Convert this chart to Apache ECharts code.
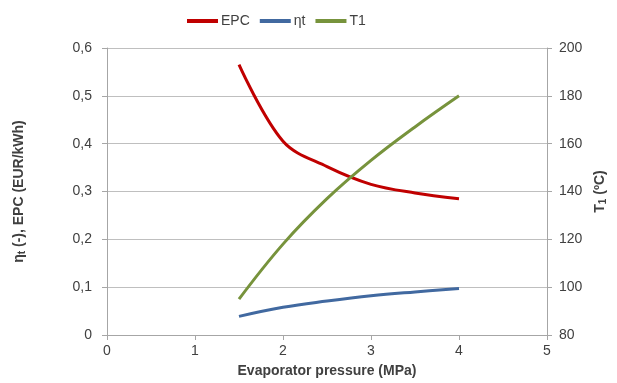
<!DOCTYPE html>
<html>
<head>
<meta charset="utf-8">
<script src="https://cdn.jsdelivr.net/npm/echarts@6/dist/echarts.min.js"></script>
<style>
  html, body { margin: 0; padding: 0; background: #fff; }
  #chart { width: 617px; height: 383px; }
</style>
</head>
<body>
<div id="chart"></div>
<script>
// 蒸发压力 (MPa)
const pressure = [1.5, 2, 2.5, 3, 3.5, 4];
const epc = [0.565, 0.405, 0.352, 0.315, 0.297, 0.285];
const etaT = [0.039, 0.058, 0.071, 0.082, 0.090, 0.097];
const t1 = [95, 118, 137, 153, 167, 180];

const textColor = "#404040";
const fontFamily = "'Liberation Sans', sans-serif";

function pairs(xs, ys) {
  return xs.map((x, i) => [x, ys[i]]);
}

let myChart = echarts.init(document.getElementById("chart"));

var option = {
  animation: false,
  textStyle: { fontFamily: fontFamily },
  legend: {
    top: 9,
    left: 182,
    icon: "rect",
    itemWidth: 31,
    itemHeight: 4,
    itemGap: 10,
    textStyle: { color: textColor, fontSize: 14, fontFamily: fontFamily, padding: [0, 0, 0, -2] },
    data: ["EPC", "ηt", "T1"]
  },
  grid: { left: 107, right: 70, top: 48, bottom: 46 },
  xAxis: {
    type: "value",
    min: 0,
    max: 5,
    interval: 1,
    name: "Evaporator pressure (MPa)",
    nameLocation: "middle",
    nameGap: 29,
    nameTextStyle: { color: textColor, fontWeight: "bold", fontSize: 14 },
    axisLine: { lineStyle: { color: "#a6a6a6" } },
    axisTick: { show: true, length: 5, lineStyle: { color: "#a6a6a6" } },
    axisLabel: { color: textColor, fontSize: 14, margin: 9 },
    splitLine: { show: false }
  },
  yAxis: [
    {
      type: "value",
      min: 0,
      max: 0.6,
      interval: 0.1,
      name: "{a|η}{s|t}{a| (-), EPC (EUR/kWh)}",
      nameLocation: "middle",
      nameGap: 80,
      nameTextStyle: {
        color: textColor,
        rich: {
          a: { fontWeight: "bold", fontSize: 14, color: textColor },
          s: { fontWeight: "bold", fontSize: 10, color: textColor, verticalAlign: "bottom", padding: [6, 0, 0, 0] }
        }
      },
      axisLine: { show: true, lineStyle: { color: "#a6a6a6" } },
      axisTick: { show: true, length: 5, lineStyle: { color: "#a6a6a6" } },
      axisLabel: {
        color: textColor,
        fontSize: 14,
        margin: 15,
        formatter: (v) => (v === 0 ? "0" : v.toFixed(1).replace(".", ","))
      },
      splitLine: { lineStyle: { color: "#bfbfbf" } }
    },
    {
      type: "value",
      min: 80,
      max: 200,
      interval: 20,
      name: "{a|T}{s|1}{a| (ºC)}",
      nameLocation: "middle",
      nameGap: 42,
      nameTextStyle: {
        color: textColor,
        rich: {
          a: { fontWeight: "bold", fontSize: 14, color: textColor },
          s: { fontWeight: "bold", fontSize: 10, color: textColor, verticalAlign: "bottom", padding: [6, 0, 0, 0] }
        }
      },
      axisLine: { show: true, lineStyle: { color: "#a6a6a6" } },
      axisTick: { show: true, length: 5, lineStyle: { color: "#a6a6a6" } },
      axisLabel: { color: textColor, fontSize: 14, margin: 12 },
      splitLine: { show: false }
    }
  ],
  series: [
    {
      name: "EPC",
      type: "line",
      yAxisIndex: 0,
      data: pairs(pressure, epc),
      smooth: 0.35,
      symbol: "none",
      lineStyle: { color: "#c00000", width: 3 },
      itemStyle: { color: "#c00000" }
    },
    {
      name: "ηt",
      type: "line",
      yAxisIndex: 0,
      data: pairs(pressure, etaT),
      smooth: 0.4,
      symbol: "none",
      lineStyle: { color: "#4169a0", width: 3 },
      itemStyle: { color: "#4169a0" }
    },
    {
      name: "T1",
      type: "line",
      yAxisIndex: 1,
      data: pairs(pressure, t1),
      smooth: 0.4,
      symbol: "none",
      lineStyle: { color: "#77933c", width: 3 },
      itemStyle: { color: "#77933c" }
    }
  ]
};

myChart.setOption(option);
window.addEventListener("resize", function () {
  myChart.resize();
});
</script>
</body>
</html>
